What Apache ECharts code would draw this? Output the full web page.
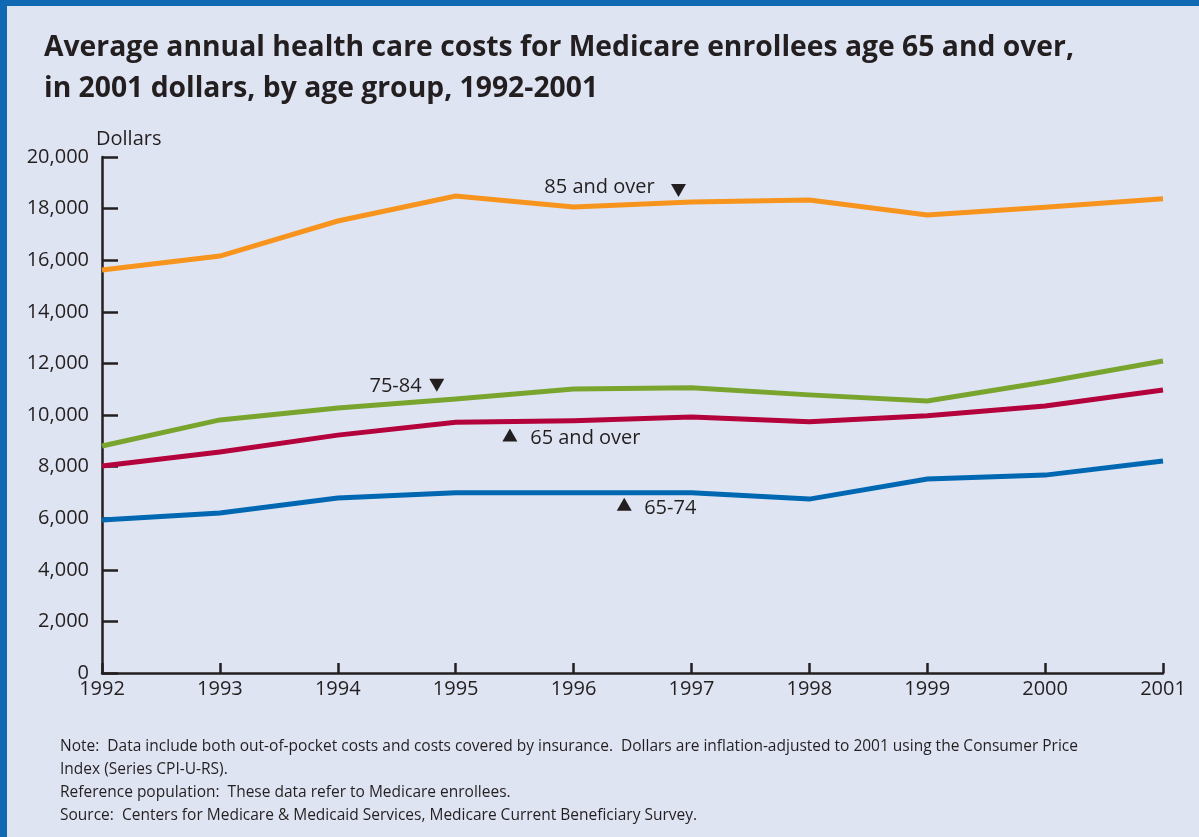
<!DOCTYPE html>
<html><head><meta charset="utf-8">
<script src="https://cdn.jsdelivr.net/npm/echarts@6/dist/echarts.min.js"></script>
<style>
html,body{margin:0;padding:0;background:#dfe4f2;}
#c{position:absolute;left:0;top:0;width:1199px;height:837px;}
#frame{position:absolute;left:0;top:0;width:1199px;height:837px;box-sizing:border-box;border-top:6px solid #1168b3;border-left:7px solid #1168b3;pointer-events:none;}
</style>
</head><body><div id="c"></div><div id="frame"></div>
<script>
// Data
const years = [1992, 1993, 1994, 1995, 1996, 1997, 1998, 1999, 2000, 2001];
const age85over = [15620, 16160, 17520, 18490, 18060, 18260, 18330, 17750, 18050, 18380];
const age75to84 = [8800, 9810, 10270, 10620, 11010, 11060, 10780, 10540, 11280, 12090];
const age65over = [8020, 8570, 9220, 9720, 9780, 9920, 9740, 9970, 10350, 10970];
const age65to74 = [5930, 6200, 6780, 6990, 6990, 6990, 6740, 7520, 7670, 8220];
const seriesNames = ['85 and over', '75-84', '65 and over', '65-74'];

const FONT = '"Open Sans"';
const INK = '#231f20';
const pairs = vals => years.map((y, i) => [y, vals[i]]);

function textPoint(text, x, y) {
  return {
    coord: [x, y], symbol: 'rect', symbolSize: 1,
    itemStyle: { color: 'rgba(0,0,0,0)' },
    label: { show: true, position: 'inside', formatter: text, color: INK, fontSize: 20, fontFamily: FONT }
  };
}
function triPoint(x, y, down) {
  return {
    coord: [x, y], symbol: 'triangle', symbolSize: [15, 13], symbolRotate: down ? 180 : 0,
    itemStyle: { color: INK }, label: { show: false }
  };
}
function lineSeries(name, vals, color, marks) {
  return {
    name: name, type: 'line', data: pairs(vals), symbol: 'none', silent: true,
    lineStyle: { width: 5, color: color, cap: 'butt', join: 'miter' },
    itemStyle: { color: color },
    markPoint: { silent: true, animation: false, data: marks }
  };
}

const chart = echarts.init(document.getElementById('c'), null, { renderer: 'canvas' });
chart.setOption({
  animation: false,
  backgroundColor: '#dfe4f2',
  title: [{
    text: 'Average annual health care costs for Medicare enrollees age 65 and over,\nin 2001 dollars, by age group, 1992-2001',
    left: 44, top: 27, padding: 0,
    textStyle: { fontFamily: FONT, fontWeight: 'bold', fontSize: 28.3, lineHeight: 41, color: INK }
  }, {
    text: 'Note:  Data include both out-of-pocket costs and costs covered by insurance.  Dollars are inflation-adjusted to 2001 using the Consumer Price\nIndex (Series CPI-U-RS).\nReference population:  These data refer to Medicare enrollees.\nSource:  Centers for Medicare & Medicaid Services, Medicare Current Beneficiary Survey.',
    left: 60, top: 735, padding: 0,
    textStyle: { fontFamily: FONT, fontWeight: 'normal', fontSize: 15.5, lineHeight: 23, color: INK }
  }],
  grid: { left: 102, right: 36, top: 157, bottom: 164, containLabel: false },
  xAxis: {
    type: 'value', min: 1992, max: 2001, interval: 1,
    axisLine: { show: true, lineStyle: { color: INK, width: 2.5 } },
    axisTick: { show: true, inside: true, length: 10, lineStyle: { color: INK, width: 2.5 } },
    axisLabel: { formatter: v => String(v), color: INK, fontSize: 20, fontFamily: FONT, margin: 6 },
    splitLine: { show: false }
  },
  yAxis: {
    type: 'value', min: 0, max: 20000, interval: 2000,
    name: 'Dollars', nameLocation: 'end', nameGap: 8,
    nameTextStyle: { color: INK, fontSize: 20, fontFamily: FONT, align: 'left', padding: [0, 0, 0, -6] },
    axisLine: { show: true, lineStyle: { color: INK, width: 2.5 } },
    axisTick: { show: true, inside: true, length: 16, lineStyle: { color: INK, width: 2.5 } },
    axisLabel: { formatter: v => v.toLocaleString('en-US'), color: INK, fontSize: 20, fontFamily: FONT, margin: 13 },
    splitLine: { show: false }
  },
  series: [
    lineSeries(seriesNames[0], age85over, '#f7941d', [textPoint('85 and over', 1996.22, 18840), triPoint(1996.89, 18700, true)]),
    lineSeries(seriesNames[1], age75to84, '#79a52f', [textPoint('75-84', 1994.49, 11120), triPoint(1994.84, 11150, true)]),
    lineSeries(seriesNames[2], age65over, '#b4023c', [triPoint(1995.46, 9220, false), textPoint('65 and over', 1996.10, 9110)]),
    lineSeries(seriesNames[3], age65to74, '#0068b2', [triPoint(1996.43, 6540, false), textPoint('65-74', 1996.82, 6400)])
  ]
});
</script>
</body></html>
